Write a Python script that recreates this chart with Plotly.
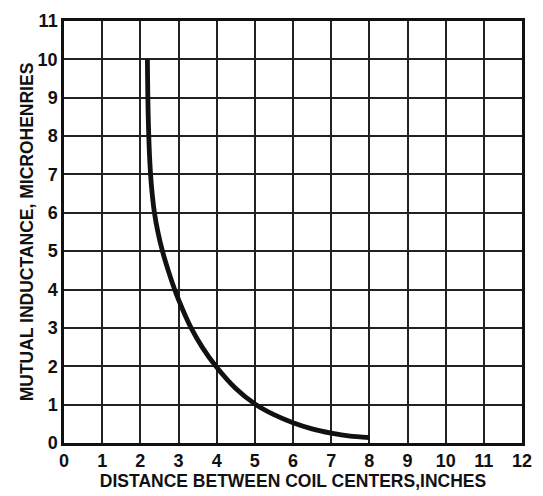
import plotly.graph_objects as go

# Mutual inductance vs. spacing between coil centers
distance_in = [2.185, 2.190, 2.197, 2.207, 2.221, 2.240, 2.268, 2.310, 2.370, 2.460, 2.580, 2.730,
               2.900, 3.100, 3.330, 3.620, 3.980, 4.500, 5.000, 5.500, 6.000, 6.500, 7.000, 7.500, 8.000]
inductance_uh = [10.0, 9.5, 9.0, 8.5, 8.0, 7.5, 7.0, 6.5, 6.0, 5.5, 5.0, 4.5,
                 4.0, 3.5, 3.0, 2.5, 2.0, 1.42, 1.02, 0.74, 0.53, 0.37, 0.26, 0.18, 0.14]

x_ticks = list(range(0, 13))
y_ticks = list(range(0, 12))

font_family = "Liberation Sans, Arial, sans-serif"
ink = "#111111"

fig = go.Figure()
fig.add_trace(go.Scatter(
    x=distance_in, y=inductance_uh, mode="lines",
    line=dict(color=ink, width=4.8, shape="spline", smoothing=0.6),
    hoverinfo="skip", showlegend=False,
))

axis_common = dict(
    showgrid=True, gridcolor="#222222", gridwidth=1.6,
    showline=True, linecolor=ink, linewidth=2.5, mirror=True,
    zeroline=False, ticks="",
    tickfont=dict(family=font_family, size=18, color=ink, weight="bold"),
    fixedrange=True,
)

fig.update_xaxes(
    range=[0, 12], tickvals=x_ticks, ticktext=[str(t) for t in x_ticks],
    title=dict(text="DISTANCE BETWEEN COIL CENTERS,INCHES",
               font=dict(family=font_family, size=17.5, color=ink, weight="bold"),
               standoff=1),
    **axis_common,
)
fig.update_yaxes(
    range=[0, 11], tickvals=y_ticks, ticktext=[str(t) for t in y_ticks],
    title=dict(text="MUTUAL INDUCTANCE, MICROHENRIES",
               font=dict(family=font_family, size=17.5, color=ink, weight="bold"),
               standoff=0),
    **axis_common,
)

fig.update_layout(
    width=543, height=496,
    margin=dict(l=64, r=11, t=15, b=49),
    paper_bgcolor="white", plot_bgcolor="white",
)

fig.write_html("out.html")
